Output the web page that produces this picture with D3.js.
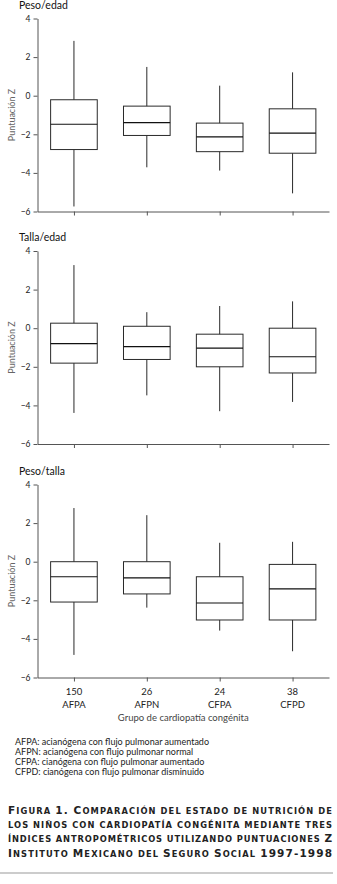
<!DOCTYPE html>
<html lang="es">
<head>
  <meta charset="UTF-8"/>
  <title>Figura 1. Puntuaciones Z</title>
  <script src="https://d3js.org/d3.v7.min.js"></script>
  <style>
    body { margin: 0; background: #fff; }
    svg { display: block; font-family: Lato, "Open Sans", sans-serif; }
  </style>
</head>
<body>
<script>
  // grupos y n de cada grupo
  var groups = ["AFPA", "AFPN", "CFPA", "CFPD"];
  var counts = [150, 26, 24, 38];
  var panelTitles = ["Peso/edad", "Talla/edad", "Peso/talla"];
  var yTicks = [-6, -4, -2, 0, 2, 4];

  // [min, q1, mediana, q3, max] por grupo
  var pesoEdad = [[-5.74, -2.79, -1.48, -0.21, 2.84],
                  [-3.71, -2.06, -1.39, -0.54, 1.49],
                  [-3.88, -2.90, -2.13, -1.42, 0.52],
                  [-5.06, -2.98, -1.94, -0.68, 1.21]];
  var tallaEdad = [[-4.39, -1.81, -0.80, 0.26, 3.27],
                   [-3.48, -1.62, -0.95, 0.10, 0.83],
                   [-4.30, -2.00, -1.03, -0.31, 1.15],
                   [-3.82, -2.32, -1.48, 0.00, 1.39]];
  var pesoTalla = [[-4.83, -2.09, -0.78, 0.00, 2.78],
                   [-2.38, -1.67, -0.84, 0.00, 2.41],
                   [-3.57, -3.02, -2.14, -0.78, 0.98],
                   [-4.64, -3.02, -1.41, -0.14, 1.03]];

  var legendLines = ["AFPA: acianógena con flujo pulmonar aumentado",
                     "AFPN: acianógena con flujo pulmonar normal",
                     "CFPA: cianógena con flujo pulmonar aumentado",
                     "CFPD: cianógena con flujo pulmonar disminuido"];
  var captionLines = ["Figura 1. Comparación del estado de nutrición de",
                      "los niños con cardiopatía congénita mediante tres",
                      "índices antropométricos utilizando puntuaciones Z",
                      "Instituto Mexicano del Seguro Social 1997-1998"];

  var w = 337, h = 884;
  var left = 37.5, right = 329;
  var panelTop = [18.5, 251, 484.5];
  var panelH = 193;
  var stroke = "#2a2a2a";

  var svg = d3.select("body").append("svg")
      .attr("width", w)
      .attr("height", h);

  var xScale = d3.scalePoint()
      .domain(groups)
      .range([left, right])
      .padding(0.5);
  var boxW = xScale.step() * 0.64;

  var panels = [pesoEdad, tallaEdad, pesoTalla];

  panels.forEach(function(data, p) {
    var top = panelTop[p];
    var yScale = d3.scaleLinear().domain([-6, 4]).range([top + panelH, top]);
    var g = svg.append("g");

    // titulo del panel
    g.append("text")
        .attr("x", 19)
        .attr("y", top - 10)
        .attr("font-size", 10.5)
        .attr("fill", "#111")
        .text(panelTitles[p]);

    // eje y
    var yAxis = d3.axisLeft(yScale)
        .tickValues(yTicks)
        .tickSize(4)
        .tickSizeOuter(0)
        .tickPadding(3);
    var ya = g.append("g")
        .attr("transform", "translate(" + left + ",0)")
        .call(yAxis);
    ya.select(".domain").attr("stroke", "#555");
    ya.selectAll(".tick line").attr("stroke", "#555");
    ya.selectAll(".tick text")
        .attr("font-size", 8.5)
        .attr("font-family", "Lato, sans-serif")
        .attr("fill", "#222");

    // eje x
    var xAxis = d3.axisBottom(xScale)
        .tickSize(4)
        .tickSizeOuter(0)
        .tickFormat("");
    var xa = g.append("g")
        .attr("transform", "translate(0," + (top + panelH) + ")")
        .call(xAxis);
    xa.select(".domain").attr("stroke", "#555");
    xa.selectAll(".tick line").attr("stroke", "#555");

    // etiqueta del eje y
    g.append("text")
        .attr("transform", "rotate(-90)")
        .attr("x", -(top + panelH / 2))
        .attr("y", 14.5)
        .attr("text-anchor", "middle")
        .attr("font-size", 9)
        .attr("fill", "#666")
        .text("Puntuación Z");

    var boxes = g.selectAll("g.box")
        .data(data)
        .enter()
        .append("g")
        .attr("class", "box");

    // bigotes
    boxes.append("line")
        .attr("x1", function(d, i) { return xScale(groups[i]); })
        .attr("x2", function(d, i) { return xScale(groups[i]); })
        .attr("y1", function(d) { return yScale(d[0]); })
        .attr("y2", function(d) { return yScale(d[1]); })
        .attr("stroke", stroke);
    boxes.append("line")
        .attr("x1", function(d, i) { return xScale(groups[i]); })
        .attr("x2", function(d, i) { return xScale(groups[i]); })
        .attr("y1", function(d) { return yScale(d[3]); })
        .attr("y2", function(d) { return yScale(d[4]); })
        .attr("stroke", stroke);

    // caja
    boxes.append("rect")
        .attr("x", function(d, i) { return xScale(groups[i]) - boxW / 2; })
        .attr("y", function(d) { return yScale(d[3]); })
        .attr("width", boxW)
        .attr("height", function(d) { return yScale(d[1]) - yScale(d[3]); })
        .attr("fill", "none")
        .attr("stroke", stroke);

    // mediana
    boxes.append("line")
        .attr("x1", function(d, i) { return xScale(groups[i]) - boxW / 2; })
        .attr("x2", function(d, i) { return xScale(groups[i]) + boxW / 2; })
        .attr("y1", function(d) { return yScale(d[2]); })
        .attr("y2", function(d) { return yScale(d[2]); })
        .attr("stroke", "#111")
        .attr("stroke-width", 1.2);
  });

  // etiquetas de categoria bajo el ultimo panel
  var baseY = panelTop[2] + panelH;
  svg.selectAll("text.count")
      .data(counts)
      .enter()
      .append("text")
      .attr("class", "count")
      .attr("x", function(d, i) { return xScale(groups[i]); })
      .attr("y", baseY + 17)
      .attr("text-anchor", "middle")
      .attr("font-size", 9.5)
      .attr("fill", "#222")
      .text(function(d) { return d; });
  svg.selectAll("text.group")
      .data(groups)
      .enter()
      .append("text")
      .attr("class", "group")
      .attr("x", function(d) { return xScale(d); })
      .attr("y", baseY + 30)
      .attr("text-anchor", "middle")
      .attr("font-size", 9.5)
      .attr("fill", "#222")
      .text(function(d) { return d; });
  svg.append("text")
      .attr("x", (left + right) / 2)
      .attr("y", baseY + 43.5)
      .attr("text-anchor", "middle")
      .attr("font-size", 9.5)
      .attr("fill", "#444")
      .text("Grupo de cardiopatía congénita");

  // leyenda
  svg.selectAll("text.legend")
      .data(legendLines)
      .enter()
      .append("text")
      .attr("class", "legend")
      .attr("x", 15)
      .attr("y", function(d, i) { return 744.5 + i * 10.2; })
      .attr("font-size", 9)
      .attr("fill", "#222")
      .text(function(d) { return d; });

  // pie de figura, versalitas hechas a mano
  function smallCapRuns(line) {
    var runs = [];
    for (var k = 0; k < line.length; k++) {
      var ch = line[k];
      var small = ch !== ch.toUpperCase();
      if (!/\p{L}|\d/u.test(ch) && runs.length) small = runs[runs.length - 1].small;
      if (runs.length && runs[runs.length - 1].small === small) {
        runs[runs.length - 1].text += ch;
      } else {
        runs.push({text: ch, small: small});
      }
    }
    return runs;
  }

  var captions = svg.selectAll("text.caption")
      .data(captionLines)
      .enter()
      .append("text")
      .attr("class", "caption")
      .attr("x", 8)
      .attr("y", function(d, i) { return 813.5 + i * 14.4; })
      .attr("font-family", "'DejaVu Sans', sans-serif")
      .attr("font-weight", "bold")
      .attr("fill", "#222")
      .attr("textLength", 324)
      .attr("lengthAdjust", "spacing");
  captions.selectAll("tspan")
      .data(function(d) { return smallCapRuns(d); })
      .enter()
      .append("tspan")
      .attr("font-size", function(r) { return r.small ? 8.3 : 10.5; })
      .text(function(r) { return r.text.toUpperCase(); });

  svg.append("line")
      .attr("x1", 0)
      .attr("x2", 333)
      .attr("y1", 873)
      .attr("y2", 873)
      .attr("stroke", "#bbb")
      .attr("stroke-width", 1.5);
</script>
</body>
</html>
